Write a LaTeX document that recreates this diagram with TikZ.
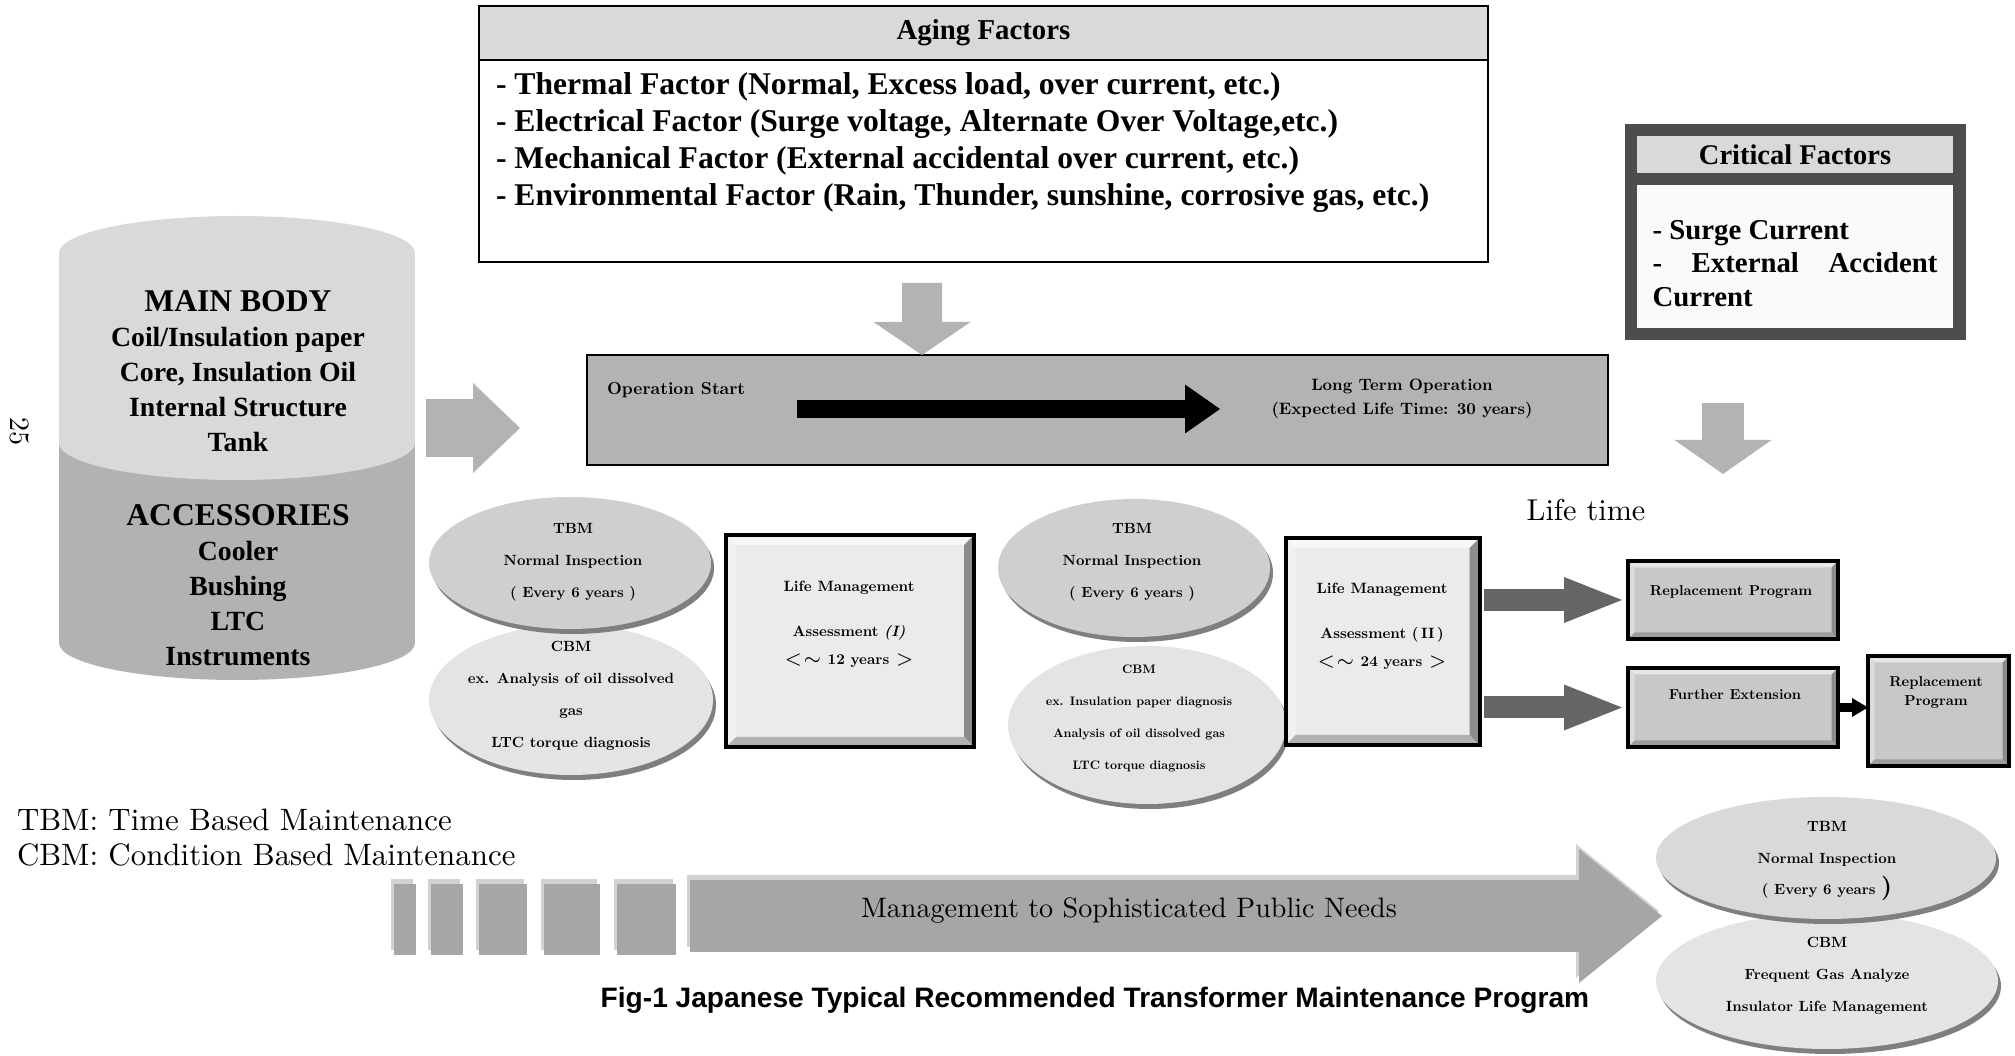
\documentclass[tikz,border=0pt]{standalone}
\usepackage{fontspec}
\usepackage{tikz}
\usetikzlibrary{positioning,shapes.geometric,arrows.meta,shadows,backgrounds}
\setmainfont{lmroman10-regular}[Extension=.otf, BoldFont=lmroman10-bold, ItalicFont=lmroman10-italic, BoldItalicFont=lmroman10-bolditalic]
\newfontfamily\timesfont{Liberation Serif}
\newfontfamily\gothicfont{Liberation Sans}
\definecolor{bodygray}{HTML}{D9D9D9}
\definecolor{accgray}{HTML}{B2B2B2}
\definecolor{arrowgray}{HTML}{B3B3B3}
\definecolor{darkarrow}{HTML}{666666}
\definecolor{shadowgray}{HTML}{7F7F7F}
\definecolor{tbmgray}{HTML}{CFCFCF}
\definecolor{cbmgray}{HTML}{E4E4E4}
\definecolor{facegray}{HTML}{EBEBEB}
\definecolor{rpgray}{HTML}{C8C8C8}
\definecolor{critdark}{HTML}{4D4D4D}
\definecolor{needsgray}{HTML}{A6A6A6}
\definecolor{hilite}{HTML}{D2D2D2}

\begin{document}
\begin{tikzpicture}[x=0.1mm, y=-0.1mm,
    every node/.style={inner sep=0pt, outer sep=0pt},
    fat/.style n args={3}{line width=#1, -{Triangle[width=#2, length=#3, line width=0pt]}},
    bevel/.style n args={5}{path picture={
        \fill[#1] (path picture bounding box.north west) -- (path picture bounding box.north east)
            -- ([shift={(-#5,-#5)}]path picture bounding box.north east) -- ([shift={(#5,-#5)}]path picture bounding box.north west) -- cycle;
        \fill[#2] (path picture bounding box.north west) -- (path picture bounding box.south west)
            -- ([shift={(#5,#5)}]path picture bounding box.south west) -- ([shift={(#5,-#5)}]path picture bounding box.north west) -- cycle;
        \fill[#3] (path picture bounding box.north east) -- (path picture bounding box.south east)
            -- ([shift={(-#5,#5)}]path picture bounding box.south east) -- ([shift={(-#5,-#5)}]path picture bounding box.north east) -- cycle;
        \fill[#4] (path picture bounding box.south west) -- (path picture bounding box.south east)
            -- ([shift={(-#5,#5)}]path picture bounding box.south east) -- ([shift={(#5,#5)}]path picture bounding box.south west) -- cycle;
    }},
    lmbox/.style={draw=black, line width=0.4mm, fill=facegray,
        bevel={white!60!facegray}{white!30!facegray}{black!45}{black!30}{1mm}},
    rpbox/.style={draw=black, line width=0.45mm, fill=rpgray,
        bevel={white!55!rpgray}{white!35!rpgray}{black!45}{black!38}{0.65mm}},
    oval/.style={ellipse, drop shadow={shadow xshift=0.3mm, shadow yshift=-0.5mm, fill=shadowgray, opacity=1}},
    smalltext/.style={font=\fontsize{4.2}{9.1}\selectfont\bfseries, align=center},
    blk/.style={fill=needsgray, minimum height=7.1mm,
        drop shadow={shadow xshift=-0.3mm, shadow yshift=0.5mm, fill=hilite, opacity=1}},
    tanktext/.style={font=\timesfont\bfseries\fontsize{7.9}{9.96}\selectfont, align=center}
]
\useasboundingbox (0,0) rectangle (2015,1056);

\fill[accgray] (59,443) rectangle (415,643);
\fill[accgray] (237,643) ellipse [x radius=17.8mm, y radius=3.7mm];
\fill[bodygray] (59,253) rectangle (415,443);
\fill[bodygray] (237,253) ellipse [x radius=17.8mm, y radius=3.7mm];
\fill[bodygray] (237,443) ellipse [x radius=17.8mm, y radius=3.7mm];
\node[tanktext] (body) at (238,371) {{\fontsize{9}{9.96}\selectfont MAIN BODY}\\Coil/Insulation paper\\Core, Insulation Oil\\Internal Structure\\Tank};
\node[tanktext] (acc) at (238,585) {{\fontsize{9}{9.96}\selectfont ACCESSORIES}\\Cooler\\Bushing\\LTC\\Instruments};
\node[font=\fontsize{8}{10}\selectfont, rotate=-90] (pageno) at (20,432) {25};

\node[draw, line width=0.2mm, fill=bodygray, minimum width=100.9mm, minimum height=5.4mm,
    font=\timesfont\bfseries\fontsize{8.2}{10}\selectfont] (aging) at (983.5,33) {Aging Factors};
\node[draw, line width=0.2mm, minimum width=100.9mm, minimum height=20.2mm, below=0pt of aging] (agebody) {};
\node[anchor=north west, align=left, font=\timesfont\bfseries\fontsize{9}{10.5}\selectfont] (agelist) at (496,73)
    {- Thermal Factor (Normal, Excess load, over current, etc.)\\
     - Electrical Factor (Surge voltage, Alternate Over Voltage,etc.)\\
     - Mechanical Factor (External accidental over current, etc.)\\
     - Environmental Factor (Rain, Thunder, sunshine, corrosive gas, etc.)};

\node[draw, line width=0.25mm, fill=arrowgray, minimum width=102.1mm, minimum height=11mm] (op) at (1097.5,410) {};
\node[anchor=west, font=\fontsize{4.9}{6.8}\selectfont\bfseries] (opstart) at (607,390) {Operation Start};
\node[align=center, font=\fontsize{4.7}{6.8}\selectfont\bfseries] (longterm) at (1402,399) {Long Term Operation\\(Expected Life Time: 30 years)};
\coordinate (opA) at (797,409);
\coordinate (opB) at (1220,409);
\draw[fat={1.8mm}{4.9mm}{3.5mm}] (opA) -- (opB);
\draw[arrowgray, fat={4mm}{9.7mm}{3.3mm}] ([xshift=-6.15mm, yshift=-2.1mm]agebody.south) -- ([xshift=-17.55mm]op.north);

\node[fill=critdark, minimum width=34.1mm, minimum height=21.6mm] (crit) at (1795.5,232) {};
\node[fill=bodygray, minimum width=31.6mm, minimum height=3.7mm,
    font=\timesfont\bfseries\fontsize{8.1}{10}\selectfont] (crithead) at (1795,154.5) {Critical Factors};
\node[fill=white!98!black, minimum width=31.6mm, minimum height=14.3mm] (critbody) at (1795,256.5) {};
\node[text width=28.5mm, align=justify, font=\timesfont\bfseries\fontsize{8.2}{9.6}\selectfont] (critlist)
    at ([yshift=-0.7mm]critbody.center) {- Surge Current\\- External \mbox{Accident} Current};
\draw[arrowgray, fat={4.2mm}{9.7mm}{3.4mm}] ([xshift=-7.25mm, yshift=-6.3mm]crit.south) -- ([xshift=-7.25mm, yshift=-13.4mm]crit.south);
\node[font=\fontsize{8.6}{10}\selectfont] (lifetime) at (1586,510) {Life time};

\coordinate (tankR) at (415,428);
\draw[arrowgray, fat={5.8mm}{9mm}{4.7mm}] ([xshift=1.1mm]tankR) -- ([xshift=10.5mm]tankR);

\node[oval, fill=cbmgray, minimum width=28.4mm, minimum height=15mm] (cbm1) at (571,700) {};
\node[oval, fill=tbmgray, minimum width=28.2mm, minimum height=13.2mm] (tbm1) at (570,563) {};
\node[smalltext] (tbm1t) at (573,562) {TBM\\Normal Inspection\\( Every 6 years )};
\node[smalltext] (cbm1t) at (571,696) {CBM\\ex. Analysis of oil dissolved\\gas\\LTC torque diagnosis};

\node[lmbox, minimum width=24.8mm, minimum height=21.2mm] (lm1) at (850,641) {};
\node[smalltext, font=\fontsize{4.25}{8}\selectfont\bfseries] (lm1t) at (849,624) {Life Management\\[1.7mm]Assessment \textit{(I)}\\$<\sim$ 12 years $>$};

\node[oval, fill=cbmgray, minimum width=27.8mm, minimum height=15.8mm] (cbm2) at (1147,725) {};
\node[oval, fill=tbmgray, minimum width=27.2mm, minimum height=13.8mm] (tbm2) at (1134,568) {};
\node[smalltext] (tbm2t) at (1132,562) {TBM\\Normal Inspection\\( Every 6 years )};
\node[smalltext, font=\fontsize{3.5}{9.1}\selectfont\bfseries] (cbm2t) at (1139,718) {CBM\\ex. Insulation paper diagnosis\\Analysis of oil dissolved gas\\LTC torque diagnosis};

\node[lmbox, minimum width=19.4mm, minimum height=20.7mm] (lm2) at (1382.5,641.5) {};
\node[smalltext, font=\fontsize{4.25}{8}\selectfont\bfseries] (lm2t) at (1382,626) {Life Management\\[1.7mm]Assessment (\,II\,)\\$<\sim$ 24 years $>$};

\node[rpbox, minimum width=21mm, minimum height=7.8mm] (rp1) at (1733,600) {};
\node[smalltext, font=\fontsize{4.1}{5.4}\selectfont\bfseries] (rp1t) at (1731,592) {Replacement Program};
\node[rpbox, minimum width=21mm, minimum height=7.9mm] (fe) at (1733,707.5) {};
\node[smalltext, font=\fontsize{4.1}{5.4}\selectfont\bfseries] (fet) at (1735,695) {Further Extension};
\node[rpbox, minimum width=14.1mm, minimum height=11mm] (rp2) at (1938.5,711) {};
\node[smalltext, font=\fontsize{4.1}{5.4}\selectfont\bfseries] (rp2t) at (1936,692.5) {Replacement\\Program};

\draw[darkarrow, fat={2.2mm}{4.6mm}{5.8mm}, shorten <=0.4mm, shorten >=0.6mm] (lm2.east |- rp1.west) -- (rp1.west);
\draw[darkarrow, fat={2.2mm}{4.6mm}{5.8mm}, shorten <=0.4mm, shorten >=0.6mm] (lm2.east |- fe.west) -- (fe.west);
\draw[fat={0.9mm}{1.9mm}{1.6mm}] (fe.east) -- (fe.east -| rp2.west);

\node[anchor=west, align=left, font=\fontsize{8.8}{10}\selectfont] (legend) at (17,837.5) {TBM: Time Based Maintenance\\CBM: Condition Based Maintenance};

\node[oval, fill=cbmgray, minimum width=34.2mm, minimum height=13.6mm] (cbm3) at (1827,981) {};
\node[oval, fill=bodygray, minimum width=34mm, minimum height=12.2mm] (tbm3) at (1826,858) {};
\node[smalltext] (tbm3t) at (1827,861) {TBM\\Normal Inspection\\( Every 6 years {\fontsize{7}{8}\selectfont)}};
\node[smalltext] (cbm3t) at (1827,976) {CBM\\Frequent Gas Analyze\\Insulator Life Management};

\foreach \n/\xa/\xb in {1/394/416, 2/431/463, 3/479/527, 4/544/600, 5/617/676}
    \node[blk, minimum width={(\xb-\xa)*0.1mm}] (blk\n) at ({(\xa+\xb)/2},919.5) {};
\path (tbm3.west |- blk5.east) coordinate (needsend);
\begin{scope}[on background layer]
\draw[hilite, fat={7.2mm}{13.4mm}{8.3mm}] ([shift={(1.1mm,0.85mm)}]blk5.east) -- ([shift={(0.3mm,0.85mm)}]needsend);
\draw[needsgray, fat={7.2mm}{13.4mm}{8.3mm}] ([shift={(1.4mm,0.35mm)}]blk5.east) -- ([shift={(0.6mm,0.35mm)}]needsend);
\end{scope}
\node[font=\fontsize{8}{10}\selectfont] (needs) at (1129,910) {Management to Sophisticated Public Needs};

\node[font=\gothicfont\bfseries\fontsize{8}{10}\selectfont] (caption) at (1095,1000) {Fig-1 Japanese Typical Recommended Transformer Maintenance Program};
\end{tikzpicture}
\end{document}
